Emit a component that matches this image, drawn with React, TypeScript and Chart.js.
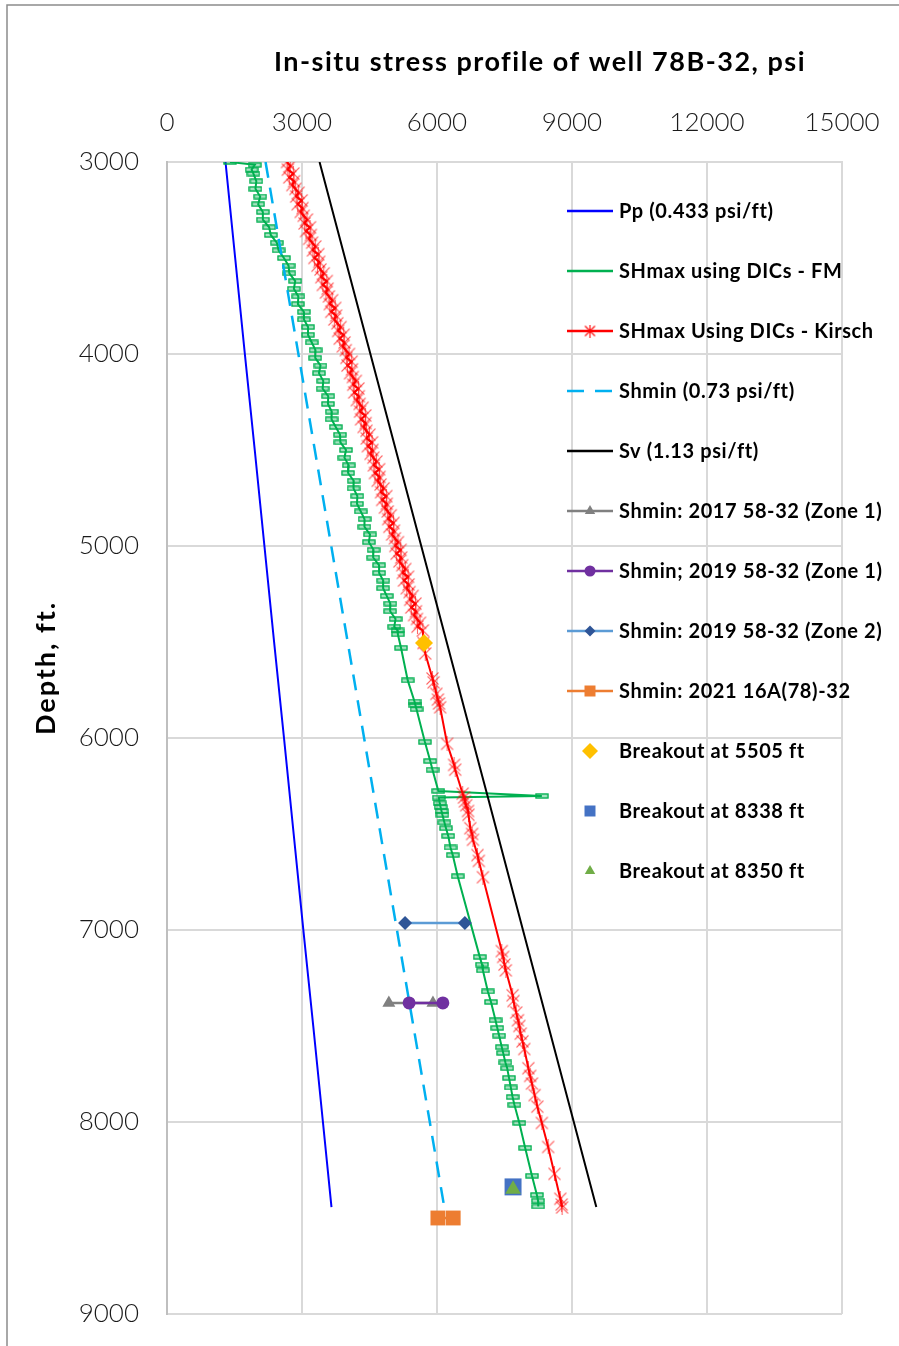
import React, { useEffect, useRef } from 'react';
import { Chart, registerables } from 'chart.js';

Chart.register(...registerables);

// ---------- Data (depth in ft, stress in psi) ----------
const X_TICKS = [0, 3000, 6000, 9000, 12000, 15000];
const Y_TICKS = [3000, 4000, 5000, 6000, 7000, 8000, 9000];

const PP_DEPTH = [3000, 3500, 4000, 4500, 5000, 5500, 6000, 6500, 7000, 7500, 8000, 8443];
const PP_PSI = [1300, 1515, 1730, 1950, 2165, 2380, 2600, 2815, 3030, 3250, 3465, 3655];

const SHMIN_DEPTH = [3000, 4000, 5000, 6000, 7000, 8000, 8448];
const SHMIN_PSI = [2190, 2920, 3650, 4380, 5110, 5840, 6165];

const SV_DEPTH = [3000, 4000, 5000, 6000, 6300, 7000, 8000, 8443];
const SV_PSI = [3390, 4520, 5650, 6780, 7120, 7910, 9040, 9540];

const FM_DEPTH = [
  3000, 3015, 3040, 3060, 3100, 3140, 3180, 3220, 3260, 3300, 3340, 3380, 3420, 3460, 3500,
  3540, 3580, 3620, 3660, 3700, 3740, 3780, 3820, 3860, 3900, 3940, 3980, 4020, 4060, 4100,
  4140, 4180, 4220, 4260, 4300, 4340, 4380, 4420, 4460, 4500, 4540, 4580, 4620, 4660, 4700,
  4740, 4780, 4820, 4860, 4900, 4940, 4980, 5020, 5060, 5100, 5140, 5180, 5220, 5260, 5300,
  5340, 5380, 5420, 5440, 5460, 5530, 5700, 5810, 5830, 5850, 6020, 6120, 6165, 6276, 6302,
  6310, 6340, 6360, 6380, 6400, 6440, 6470, 6510, 6570, 6610, 6720, 7140, 7180, 7210, 7320,
  7375, 7470, 7510, 7550, 7610, 7640, 7690, 7720, 7770, 7820, 7870, 7910, 8005, 8135, 8280,
  8380, 8410, 8440,
];
const FM_PSI = [
  1400, 1950, 1880, 1920, 1985, 1966, 2071, 2026, 2130, 2130, 2270, 2306, 2440, 2479, 2598,
  2701, 2719, 2850, 2819, 2919, 2909, 3041, 3043, 3135, 3133, 3217, 3300, 3294, 3411, 3377,
  3473, 3458, 3583, 3577, 3662, 3656, 3750, 3844, 3853, 3978, 3943, 4039, 4024, 4149, 4145,
  4230, 4222, 4306, 4390, 4388, 4512, 4486, 4589, 4581, 4712, 4714, 4805, 4802, 4883, 4963,
  4959, 5079, 5050, 5125, 5130, 5200, 5350, 5500, 5520, 5545, 5730, 5850, 5900, 6030, 8330,
  6040, 6060, 6080, 6100, 6120, 6165, 6200, 6250, 6300, 6350, 6460, 6950, 7000, 7020, 7130,
  7200, 7300, 7340, 7380, 7440, 7470, 7520, 7560, 7600, 7640, 7680, 7720, 7830, 7960, 8110,
  8220, 8245, 8250,
];

const KIRSCH_DEPTH = [
  3000, 3020, 3040, 3060, 3080, 3100, 3120, 3140, 3160, 3180, 3200, 3220, 3240, 3260, 3280,
  3300, 3320, 3340, 3360, 3380, 3400, 3420, 3440, 3460, 3480, 3500, 3520, 3540, 3560, 3580,
  3600, 3620, 3640, 3660, 3680, 3700, 3720, 3740, 3760, 3780, 3800, 3820, 3840, 3860, 3880,
  3900, 3920, 3940, 3960, 3980, 4000, 4020, 4040, 4060, 4080, 4100, 4120, 4140, 4160, 4180,
  4200, 4220, 4240, 4260, 4280, 4300, 4320, 4340, 4360, 4380, 4400, 4420, 4440, 4460, 4480,
  4500, 4520, 4540, 4560, 4580, 4600, 4620, 4640, 4660, 4680, 4700, 4720, 4740, 4760, 4780,
  4800, 4820, 4840, 4860, 4880, 4900, 4920, 4940, 4960, 4980, 5000, 5020, 5040, 5060, 5080,
  5100, 5120, 5140, 5160, 5180, 5200, 5220, 5240, 5260, 5280, 5300, 5320, 5340, 5360, 5380,
  5400, 5420, 5440,
  5505, 5560, 5690, 5710, 5770, 5800, 5820, 5840, 6030, 6140, 6165, 6290, 6310,
  6330, 6350, 6380, 6400, 6470, 6500, 6530, 6610, 6640, 6725, 7110, 7140, 7180, 7210, 7340,
  7370, 7430, 7470, 7500, 7540, 7580, 7620, 7720, 7760, 7800, 7860, 7920, 8005, 8130, 8270,
  8400, 8430, 8445,
];
const KIRSCH_PSI = [
  2667, 2739, 2685, 2807, 2718, 2825, 2786, 2853, 2924, 2871, 2992, 2904, 3010, 2972, 3038,
  3110, 3056, 3178, 3089, 3196, 3157, 3224, 3295, 3242, 3363, 3275, 3382, 3344, 3410, 3482,
  3429, 3551, 3463, 3569, 3531, 3598, 3670, 3617, 3738, 3650, 3757, 3719, 3786, 3857, 3804,
  3926, 3838, 3945, 3906, 3973, 4045, 3987, 4103, 4010, 4111, 4068, 4130, 4196, 4138, 4254,
  4161, 4263, 4219, 4281, 4347, 4289, 4406, 4312, 4414, 4370, 4432, 4499, 4440, 4557, 4463,
  4565, 4523, 4586, 4653, 4596, 4714, 4622, 4725, 4682, 4745, 4813, 4756, 4874, 4781, 4884,
  4842, 4905, 4973, 4915, 5033, 4941, 5044, 5002, 5064, 5132, 5075, 5193, 5102, 5205, 5164,
  5227, 5295, 5239, 5357, 5266, 5369, 5327, 5391, 5459, 5403, 5521, 5429, 5533, 5491, 5555,
  5623, 5566, 5685,
  5700, 5740, 5900, 5925, 5985, 6020, 6045, 6070, 6225, 6380, 6405, 6570, 6600,
  6620, 6650, 6690, 6700, 6740, 6780, 6800, 6900, 6930, 7020, 7440, 7470, 7500, 7530, 7680,
  7700, 7760, 7800, 7830, 7860, 7900, 7940, 8030, 8070, 8110, 8170, 8230, 8330, 8470, 8610,
  8740, 8770, 8780,
];

const Z1_2017_DEPTH = [7380, 7380];
const Z1_2017_PSI = [4930, 5910];
const Z1_2019_DEPTH = [7380, 7380];
const Z1_2019_PSI = [5380, 6130];
const Z2_2019_DEPTH = [6964, 6964];
const Z2_2019_PSI = [5290, 6620];
const S2021_DEPTH = [8500, 8500];
const S2021_PSI = [6020, 6360];
const BO5505_DEPTH = [5505];
const BO5505_PSI = [5711];
const BO8338_DEPTH = [8338];
const BO8338_PSI = [7690];
const BO8350_DEPTH = [8350];
const BO8350_PSI = [7690];

const LABELS = [
  'Pp (0.433 psi/ft)',
  'SHmax using DICs - FM',
  'SHmax Using DICs - Kirsch',
  'Shmin (0.73 psi/ft)',
  'Sv (1.13 psi/ft)',
  'Shmin: 2017 58-32 (Zone 1)',
  'Shmin; 2019 58-32 (Zone 1)',
  'Shmin: 2019 58-32 (Zone 2)',
  'Shmin: 2021 16A(78)-32',
  'Breakout at 5505 ft',
  'Breakout at 8338 ft',
  'Breakout at 8350 ft',
];

const TITLE = 'In-situ stress profile of well 78B-32, psi';
const Y_TITLE = 'Depth, ft.';

function pts(depth: number[], psi: number[]) {
  return depth.map((d, i) => ({ x: psi[i], y: d }));
}

function makeDashMarker() {
  const c = document.createElement('canvas');
  c.width = 14;
  c.height = 6;
  const g = c.getContext('2d')!;
  g.fillStyle = 'rgba(0,176,80,0.35)';
  g.fillRect(0.5, 0.5, 13, 5);
  g.strokeStyle = 'rgba(0,176,80,1)';
  g.lineWidth = 1.3;
  g.strokeRect(1, 1, 12, 4);
  return c;
}

function makeStarMarker(size: number, alpha: number) {
  const c = document.createElement('canvas');
  c.width = size;
  c.height = size;
  const g = c.getContext('2d')!;
  const m = size / 2;
  const a = 1.5;
  const b = size - 1.5;
  g.strokeStyle = `rgba(255,0,0,${alpha})`;
  g.lineWidth = 1.1;
  g.beginPath();
  g.moveTo(a, a);
  g.lineTo(b, b);
  g.moveTo(b, a);
  g.lineTo(a, b);
  g.moveTo(m, 0);
  g.lineTo(m, size);
  g.stroke();
  return c;
}

type LegendItem = {
  line?: string;
  width?: number;
  dash?: number[];
  marker?: string;
  mColor?: string;
  mSize?: number;
};

const FONT = 'Lato, "Open Sans", sans-serif';

export default function App() {
  const ref = useRef<HTMLCanvasElement>(null);

  useEffect(() => {
    document.body.style.margin = '0';
    const canvas = ref.current!;
    const dashMarker = makeDashMarker();
    const starMarker = makeStarMarker(15, 0.6);
    const starLegend = makeStarMarker(13, 1);

    const legendItems: LegendItem[] = [
      { line: '#0000FF', width: 2.5 },
      { line: '#00B050', width: 2.5 },
      { line: '#FF0000', width: 2.5, marker: 'star' },
      { line: '#00B0F0', width: 2.5, dash: [17, 11] },
      { line: '#000000', width: 2.5 },
      { line: '#808080', width: 2.5, marker: 'triangle', mColor: '#808080', mSize: 6 },
      { line: '#7030A0', width: 2.5, marker: 'circle', mColor: '#7030A0', mSize: 5.5 },
      { line: '#5B9BD5', width: 2.5, marker: 'diamond', mColor: '#2F5597', mSize: 5.5 },
      { line: '#ED7D31', width: 2.5, marker: 'square', mColor: '#ED7D31', mSize: 11 },
      { marker: 'diamond', mColor: '#FFC000', mSize: 8 },
      { marker: 'square', mColor: '#4472C4', mSize: 11 },
      { marker: 'triangle', mColor: '#70AD47', mSize: 6 },
    ];

    const drawMarker = (ctx: CanvasRenderingContext2D, it: LegendItem, x: number, y: number) => {
      if (!it.marker) return;
      const s = it.mSize || 6;
      ctx.fillStyle = it.mColor || '#000';
      ctx.beginPath();
      if (it.marker === 'star') {
        ctx.drawImage(starLegend, x - 6.5, y - 6.5);
        return;
      } else if (it.marker === 'triangle') {
        ctx.moveTo(x, y - s);
        ctx.lineTo(x + s * 0.87, y + s * 0.5);
        ctx.lineTo(x - s * 0.87, y + s * 0.5);
        ctx.closePath();
      } else if (it.marker === 'circle') {
        ctx.arc(x, y, s, 0, Math.PI * 2);
      } else if (it.marker === 'diamond') {
        ctx.moveTo(x, y - s);
        ctx.lineTo(x + s, y);
        ctx.lineTo(x, y + s);
        ctx.lineTo(x - s, y);
        ctx.closePath();
      } else if (it.marker === 'square') {
        ctx.rect(x - s / 2, y - s / 2, s, s);
      }
      ctx.fill();
    };

    const deco = {
      id: 'deco',
      beforeDraw(chart: any) {
        const ctx = chart.ctx as CanvasRenderingContext2D;
        ctx.save();
        ctx.fillStyle = '#ffffff';
        ctx.fillRect(0, 0, chart.width, chart.height);
        ctx.strokeStyle = '#8c8c8c';
        ctx.lineWidth = 1.5;
        ctx.beginPath();
        ctx.moveTo(7, chart.height);
        ctx.lineTo(7, 5);
        ctx.lineTo(chart.width, 5);
        ctx.stroke();
        ctx.restore();
      },
      afterDraw(chart: any) {
        const ctx = chart.ctx as any;
        ctx.save();
        // title
        ctx.fillStyle = '#000';
        ctx.font = `bold 27px ${FONT}`;
        ctx.letterSpacing = '1.5px';
        ctx.textAlign = 'center';
        ctx.textBaseline = 'middle';
        ctx.fillText(TITLE, 540, 62);
        // y title
        ctx.save();
        ctx.translate(46, 668);
        ctx.rotate(-Math.PI / 2);
        ctx.font = `bold 27px ${FONT}`;
        ctx.letterSpacing = '2px';
        ctx.fillText(Y_TITLE, 0, 0);
        ctx.restore();
        // legend
        ctx.textAlign = 'left';
        ctx.font = `bold 20px ${FONT}`;
        ctx.letterSpacing = '0.6px';
        legendItems.forEach((it, i) => {
          const y = 211 + 60 * i;
          if (it.line) {
            ctx.strokeStyle = it.line;
            ctx.lineWidth = it.width || 2;
            ctx.setLineDash(it.dash || []);
            ctx.beginPath();
            ctx.moveTo(567, y);
            ctx.lineTo(613, y);
            ctx.stroke();
            ctx.setLineDash([]);
          }
          drawMarker(ctx, it, 590, y);
          ctx.fillStyle = '#000';
          ctx.fillText(LABELS[i], 619, y + 1);
        });
        ctx.letterSpacing = '0px';
        ctx.restore();
      },
    };

    const N = 12;
    const chart = new Chart(canvas, {
      type: 'scatter',
      data: {
        datasets: [
          {
            label: LABELS[0], data: pts(PP_DEPTH, PP_PSI), showLine: true,
            borderColor: '#0000FF', borderWidth: 2, pointRadius: 0, order: N - 0,
          },
          {
            label: LABELS[1], data: pts(FM_DEPTH, FM_PSI), showLine: true,
            borderColor: '#00B050', borderWidth: 2, pointStyle: dashMarker as any, pointRadius: 5, order: N - 1,
          },
          {
            label: LABELS[2], data: pts(KIRSCH_DEPTH, KIRSCH_PSI), showLine: true,
            borderColor: '#FF0000', borderWidth: 2, pointStyle: starMarker as any, pointRadius: 5, order: N - 2,
          },
          {
            label: LABELS[3], data: pts(SHMIN_DEPTH, SHMIN_PSI), showLine: true,
            borderColor: '#00B0F0', borderWidth: 2.5, borderDash: [16, 10], pointRadius: 0, order: N - 3,
          },
          {
            label: LABELS[4], data: pts(SV_DEPTH, SV_PSI), showLine: true,
            borderColor: '#000000', borderWidth: 2, pointRadius: 0, order: N - 4,
          },
          {
            label: LABELS[5], data: pts(Z1_2017_DEPTH, Z1_2017_PSI), showLine: true,
            borderColor: '#808080', borderWidth: 2.5, pointStyle: 'triangle', pointRadius: 7.5,
            pointBackgroundColor: '#808080', pointBorderColor: '#808080', pointBorderWidth: 0, order: N - 5,
          },
          {
            label: LABELS[6], data: pts(Z1_2019_DEPTH, Z1_2019_PSI), showLine: true,
            borderColor: '#7030A0', borderWidth: 2.5, pointStyle: 'circle', pointRadius: 6.5,
            pointBackgroundColor: '#7030A0', pointBorderColor: '#7030A0', pointBorderWidth: 0, order: N - 6,
          },
          {
            label: LABELS[7], data: pts(Z2_2019_DEPTH, Z2_2019_PSI), showLine: true,
            borderColor: '#5B9BD5', borderWidth: 2.5, pointStyle: 'rectRot', pointRadius: 7,
            pointBackgroundColor: '#2F5597', pointBorderColor: '#2F5597', pointBorderWidth: 0, order: N - 7,
          },
          {
            label: LABELS[8], data: pts(S2021_DEPTH, S2021_PSI), showLine: true,
            borderColor: '#ED7D31', borderWidth: 2.5, pointStyle: 'rect', pointRadius: 10.5,
            pointBackgroundColor: '#ED7D31', pointBorderColor: '#ED7D31', pointBorderWidth: 0, order: N - 8,
          },
          {
            label: LABELS[9], data: pts(BO5505_DEPTH, BO5505_PSI), showLine: false,
            pointStyle: 'rectRot', pointRadius: 9, pointBackgroundColor: '#FFC000',
            pointBorderColor: '#FFC000', pointBorderWidth: 0, order: N - 9,
          },
          {
            label: LABELS[10], data: pts(BO8338_DEPTH, BO8338_PSI), showLine: false,
            pointStyle: 'rect', pointRadius: 12, pointBackgroundColor: '#4472C4',
            pointBorderColor: '#4472C4', pointBorderWidth: 0, order: N - 10,
          },
          {
            label: LABELS[11], data: pts(BO8350_DEPTH, BO8350_PSI), showLine: false,
            pointStyle: 'triangle', pointRadius: 9, pointBackgroundColor: '#70AD47',
            pointBorderColor: '#70AD47', pointBorderWidth: 0, order: N - 11,
          },
        ],
      },
      options: {
        responsive: false,
        animation: false,
        devicePixelRatio: 1,
        events: [],
        layout: { padding: { left: 0, top: 0, right: 57, bottom: 32 } },
        elements: { line: { tension: 0 } },
        plugins: {
          legend: { display: false },
          tooltip: { enabled: false },
          title: { display: false },
        },
        scales: {
          x: {
            type: 'linear',
            position: 'top',
            min: X_TICKS[0],
            max: X_TICKS[X_TICKS.length - 1],
            afterBuildTicks: (s: any) => { s.ticks = X_TICKS.map((v) => ({ value: v })); },
            afterFit: (s: any) => {
              s.height = 162;
              s.paddingLeft = 0;
              s.paddingRight = 0;
            },
            ticks: {
              font: { family: FONT, size: 26, weight: '300' },
              color: '#1a1a1a',
              padding: 24,
              maxRotation: 0,
              callback: (v: any) => String(v),
            },
            grid: { color: '#D9D9D9', lineWidth: 2, drawTicks: false },
            border: { display: true, color: '#D9D9D9', width: 2 },
          },
          y: {
            type: 'linear',
            reverse: true,
            min: Y_TICKS[0],
            max: Y_TICKS[Y_TICKS.length - 1],
            afterBuildTicks: (s: any) => { s.ticks = Y_TICKS.map((v) => ({ value: v })); },
            afterFit: (s: any) => {
              s.width = 167;
              s.paddingTop = 0;
              s.paddingBottom = 0;
            },
            ticks: {
              font: { family: FONT, size: 26, weight: '300' },
              color: '#1a1a1a',
              padding: 28,
              callback: (v: any) => String(v),
            },
            grid: { color: '#D9D9D9', lineWidth: 2, drawTicks: false },
            border: { display: true, color: '#BFBFBF', width: 2 },
          },
        },
      },
      plugins: [deco],
    });

    return () => chart.destroy();
  }, []);

  return (
    <canvas
      ref={ref}
      width={899}
      height={1346}
      style={{ display: 'block', width: 899, height: 1346 }}
    />
  );
}
